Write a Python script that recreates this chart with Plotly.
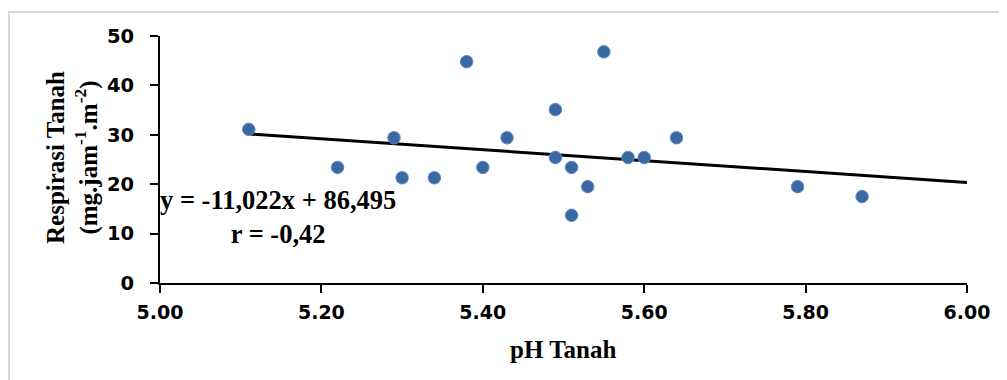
import plotly.graph_objects as go

# Data
ph_tanah = [5.11, 5.22, 5.29, 5.30, 5.34, 5.38, 5.40, 5.43, 5.49, 5.49,
            5.51, 5.51, 5.53, 5.55, 5.58, 5.60, 5.64, 5.79, 5.87]
respirasi = [31.1, 23.4, 29.4, 21.3, 21.3, 44.8, 23.4, 29.4, 35.1, 25.4,
             23.4, 13.7, 19.5, 46.8, 25.4, 25.4, 29.4, 19.5, 17.5]

slope = -11.022
intercept = 86.495
r_value = -0.42

x_ticks = [5.00, 5.20, 5.40, 5.60, 5.80, 6.00]
y_ticks = [0, 10, 20, 30, 40, 50]

trend_x = [min(ph_tanah), max(x_ticks)]
trend_y = [slope * v + intercept for v in trend_x]

fig = go.Figure()
fig.add_trace(go.Scatter(
    x=trend_x, y=trend_y, mode="lines",
    line=dict(color="black", width=3), hoverinfo="skip", showlegend=False))
fig.add_trace(go.Scatter(
    x=ph_tanah, y=respirasi, mode="markers",
    marker=dict(size=12.5, color="#3B68A2", line=dict(color="#5F8BC4", width=1)),
    showlegend=False))

OFF = 8  # page body margin
W, H = 1007, 380
# desired plot area in screen pixels
SX0, SX1, SY0, SY1 = 160, 967, 36, 283
L = SX0 - OFF
T = SY0 - OFF
R = W - (SX1 - OFF)
B = H - (SY1 - OFF)

def px(xs):
    return (xs - SX0) / (SX1 - SX0)

def py(ys):
    return (SY1 - ys) / (SY1 - SY0)

serif = "Liberation Serif"
sans = "DejaVu Sans"

fig.update_layout(
    width=W, height=H,
    margin=dict(l=L, r=R, t=T, b=B, autoexpand=False),
    paper_bgcolor="white", plot_bgcolor="white",
    xaxis=dict(
        range=[5.0, 6.0], tickvals=x_ticks, tickformat=".2f",
        showgrid=False, zeroline=False,
        showline=True, linecolor="black", linewidth=2,
        ticks="outside", ticklen=8, tickwidth=2, tickcolor="black",
        ticklabelstandoff=3,
        tickfont=dict(family=sans, size=19, color="black", weight="bold"),
    ),
    yaxis=dict(
        range=[0, 50], tickvals=y_ticks,
        showgrid=False, zeroline=False,
        showline=True, linecolor="black", linewidth=2,
        ticks="outside", ticklen=8, tickwidth=2, tickcolor="black",
        ticklabelstandoff=12,
        tickfont=dict(family=sans, size=19.5, color="black", weight="bold"),
    ),
    shapes=[dict(type="rect", xref="paper", yref="paper",
                 x0=px(9), x1=px(1040), y0=py(420), y1=py(12),
                 line=dict(color="#D9D9D9", width=2), layer="above")],
    annotations=[
        dict(text="Respirasi Tanah<br>(mg.jam<sup>-1</sup>.m<sup>-2</sup>)",
             xref="paper", yref="paper", x=px(72), y=py(158),
             xanchor="center", yanchor="middle", textangle=-90, showarrow=False,
             font=dict(family=serif, size=25, color="black", weight="bold")),
        dict(text="pH Tanah", xref="paper", yref="paper",
             x=px(563), y=py(349), xanchor="center", yanchor="middle",
             showarrow=False,
             font=dict(family=serif, size=25, color="black", weight="bold")),
        dict(text=f"y = {slope:.3f}x + {intercept:.3f}".replace(".", ",")
             + "<br>" + f"r = {r_value:.2f}".replace(".", ","),
             xref="paper", yref="paper", x=px(278), y=py(217),
             xanchor="center", yanchor="middle", align="center", showarrow=False,
             font=dict(family=serif, size=26.5, color="black", weight="bold")),
    ],
)

fig.write_html("out.html")
